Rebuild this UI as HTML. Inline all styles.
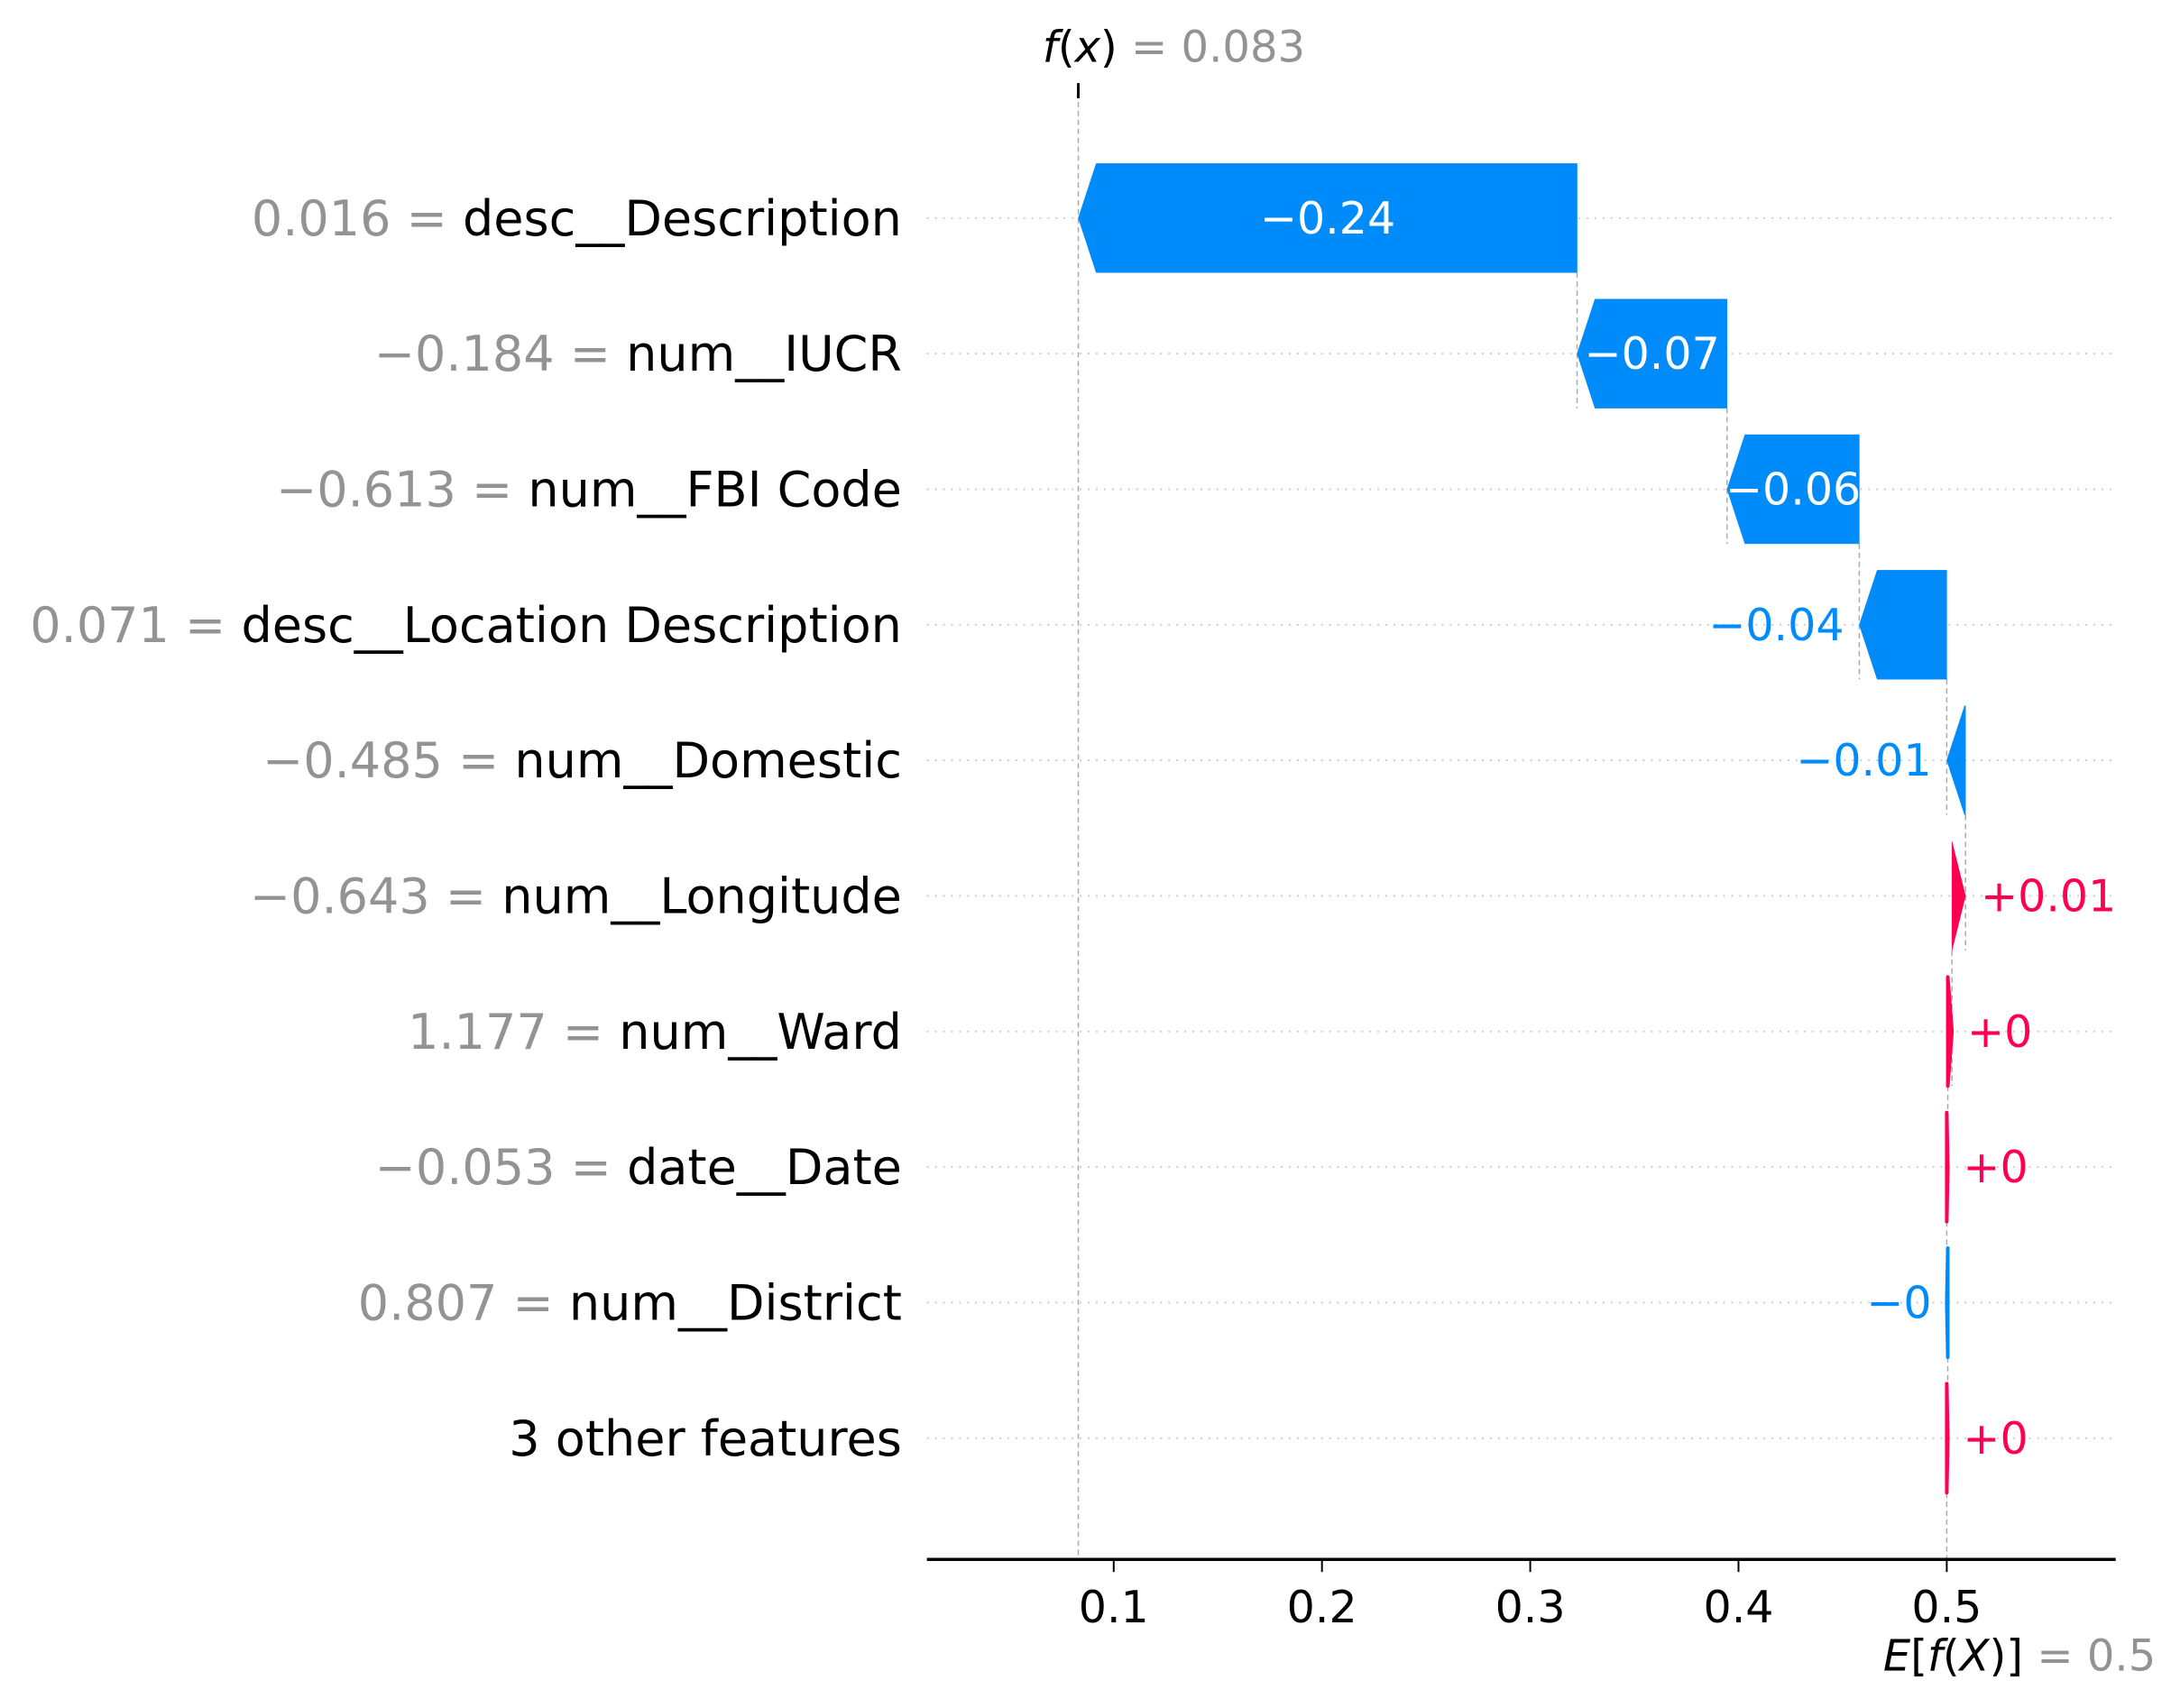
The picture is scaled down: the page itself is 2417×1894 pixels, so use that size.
<!DOCTYPE html>
<html><head><meta charset="utf-8"><style>
html,body{margin:0;padding:0;background:#fff}
svg{display:block;font-family:"DejaVu Sans","Liberation Sans",sans-serif}
</style></head><body>
<svg width="2417" height="1894" viewBox="0 0 2417 1894" xmlns="http://www.w3.org/2000/svg"><g id="chart" transform="scale(0.991)"></g></svg>
<script>
const featureValues = ["0.016","\u22120.184","\u22120.613","0.071","\u22120.485","\u22120.643","1.177","\u22120.053","0.807",""];
const featureNames = ["desc__Description","num__IUCR","num__FBI Code","desc__Location Description","num__Domestic","num__Longitude","num__Ward","date__Date","num__District","3 other features"];
const shapValues = [-0.2395,-0.072,-0.0635,-0.042,-0.009,0.0065,0.002,0.0005,-0.0005,0.0005];
const shapLabels = ["\u22120.24","\u22120.07","\u22120.06","\u22120.04","\u22120.01","+0.01","+0","+0","\u22120","+0"];
const tickValues = [0.1,0.2,0.3,0.4,0.5];
const tickLabels = ["0.1","0.2","0.3","0.4","0.5"];
const baseValue = 0.5;

const NS="http://www.w3.org/2000/svg";
const svg=document.getElementById('chart');
const X=v=>1246+(v-0.1)*2330;
const Y=i=>244+i*151.7;
const HALF=61, AXY=1745, XL=1037, XR=2367;
const BLUE="#008bfb", RED="#ff0051";
const FL=54.5, FT=49.5, FA=48.5;
function mk(tag,attrs,parent){const e=document.createElementNS(NS,tag);for(const k in attrs)e.setAttribute(k,attrs[k]);(parent||svg).appendChild(e);return e;}

const n=featureNames.length;
const starts=new Array(n), ends=new Array(n);
let cur=baseValue;
for(let i=n-1;i>=0;i--){starts[i]=cur;cur+=shapValues[i];ends[i]=cur;}
const fx=cur;

for(let i=0;i<n;i++){
  const g=mk('line',{x1:XL,x2:XR,y1:Y(i),y2:Y(i),stroke:"#cccccc","stroke-width":2,"stroke-dasharray":"2,7"});
  
  
}
let l=mk('line',{x1:X(fx),x2:X(fx),y1:94,y2:AXY,stroke:"#aaaaaa","stroke-width":1.5,"stroke-dasharray":"6,4"});


l=mk('line',{x1:X(fx),x2:X(fx),y1:93,y2:110,stroke:"#000","stroke-width":3});


l=mk('line',{x1:X(baseValue),x2:X(baseValue),y1:Y(n-1)+HALF,y2:AXY,stroke:"#aaaaaa","stroke-width":1.5,"stroke-dasharray":"6,4"});


for(let i=1;i<n;i++){
  const c=mk('line',{x1:X(ends[i]),x2:X(ends[i]),y1:Y(i-1)+HALF,y2:Y(i)+HALF,stroke:"#aaaaaa","stroke-width":1.5,"stroke-dasharray":"6,4"});
  
  
}
for(let i=0;i<n;i++){
  const s=X(starts[i]), e=X(ends[i]), y=Y(i), neg=shapValues[i]<0;
  const col=neg?BLUE:RED;
  const w=Math.abs(e-s), head=Math.min(20,w), dir=neg?-1:1;
  const bodyEnd=e-dir*head;
  const pts=[[s,y-HALF],[bodyEnd,y-HALF],[e,y],[bodyEnd,y+HALF],[s,y+HALF]];
  const p=mk('polygon',{points:pts.map(q=>q.join(',')).join(' '),fill:col,stroke:col,"stroke-width":w<8?4:0.5,"stroke-linejoin":"round"});
  
  
  const tw=shapLabels[i].length*0.55*FT;
  let t;
  if(tw < w){
    t=mk('text',{x:(s+e)/2,y:y,"text-anchor":"middle","dominant-baseline":"central","font-size":FT,fill:"#fff"});
  } else if(neg){
    t=mk('text',{x:Math.min(s,e)-17,y:y,"text-anchor":"end","dominant-baseline":"central","font-size":FT,fill:BLUE});
  } else {
    t=mk('text',{x:Math.max(s,e)+17,y:y,"text-anchor":"start","dominant-baseline":"central","font-size":FT,fill:RED});
  }
  t.textContent=shapLabels[i];
  
  
  const ft=mk('text',{x:1009,y:y,"text-anchor":"end","dominant-baseline":"central","font-size":FL,fill:"#000"});
  
  
  if(featureValues[i]!==""){
    const a=mk('tspan',{fill:"#939393"},ft);a.textContent=featureValues[i]+" = ";
  }
  const b=mk('tspan',{fill:"#000"},ft);b.textContent=featureNames[i];
}
l=mk('line',{x1:XL,x2:XR,y1:AXY,y2:AXY,stroke:"#000","stroke-width":3.5});


for(let k=0;k<tickValues.length;k++){
  const tx=X(tickValues[k]);
  const tk=mk('line',{x1:tx,x2:tx,y1:AXY,y2:AXY+14,stroke:"#000","stroke-width":2});
  
  
  const tl=mk('text',{x:tx,y:1798,"text-anchor":"middle","dominant-baseline":"central","font-size":FT,fill:"#000"});
  tl.textContent=tickLabels[k];
  
  
}
let ft=mk('text',{x:X(fx)-40,y:53,"dominant-baseline":"central","font-size":FA,fill:"#000"});


let s1=mk('tspan',{"font-style":"italic"},ft);s1.textContent="f";
let s2=mk('tspan',{},ft);s2.textContent="(";
let s3=mk('tspan',{"font-style":"italic"},ft);s3.textContent="x";
let s4=mk('tspan',{},ft);s4.textContent=") ";
let s5=mk('tspan',{fill:"#939393"},ft);s5.textContent="= 0.083";
let et=mk('text',{x:2412,y:1853,"text-anchor":"end","dominant-baseline":"central","font-size":FA,fill:"#000"});


let e1=mk('tspan',{"font-style":"italic"},et);e1.textContent="E";
let e2=mk('tspan',{},et);e2.textContent="[";
let e3=mk('tspan',{"font-style":"italic"},et);e3.textContent="f";
let e4=mk('tspan',{},et);e4.textContent="(";
let e5=mk('tspan',{"font-style":"italic"},et);e5.textContent="X";
let e6=mk('tspan',{},et);e6.textContent=")] ";
let e7=mk('tspan',{fill:"#939393"},et);e7.textContent="= 0.5";
</script>
</body></html>
